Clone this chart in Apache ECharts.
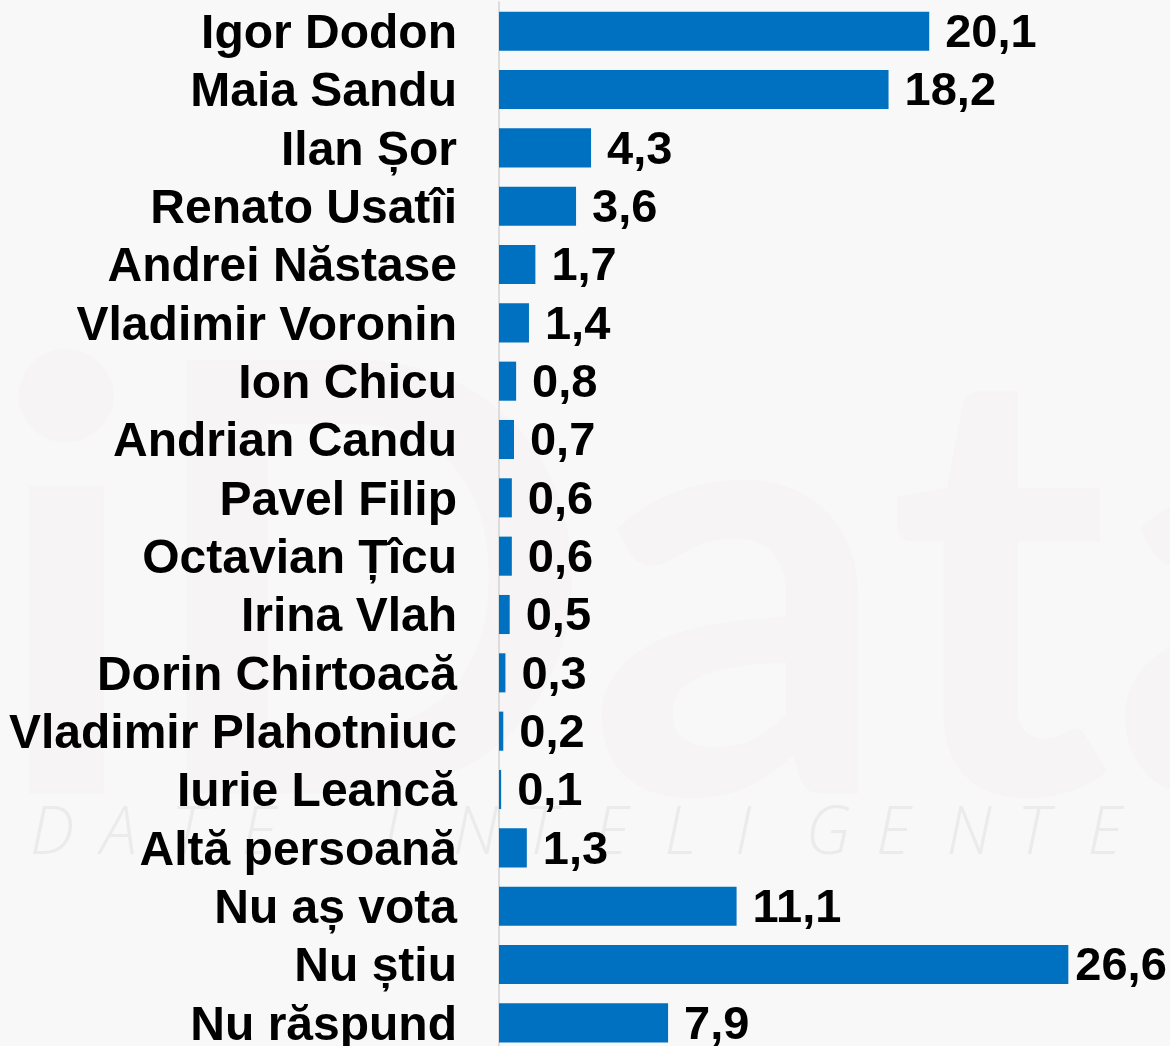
<!DOCTYPE html>
<html>
<head>
<meta charset="utf-8">
<script src="https://cdn.jsdelivr.net/npm/echarts@6/dist/echarts.min.js"></script>
<style>
html,body{margin:0;padding:0;background:#f8f8f8;overflow:hidden;}
#c{width:1170px;height:1060px;}
</style>
</head>
<body>
<div id="c"></div>
<script>
const categories = ["Igor Dodon","Maia Sandu","Ilan Șor","Renato Usatîi","Andrei Năstase","Vladimir Voronin","Ion Chicu","Andrian Candu","Pavel Filip","Octavian Țîcu","Irina Vlah","Dorin Chirtoacă","Vladimir Plahotniuc","Iurie Leancă","Altă persoană","Nu aș vota","Nu știu","Nu răspund"];
const values = [20.1,18.2,4.3,3.6,1.7,1.4,0.8,0.7,0.6,0.6,0.5,0.3,0.2,0.1,1.3,11.1,26.6,7.9];

const watermark = "DATE INTELIGENTE".split("");
const chart = echarts.init(document.getElementById('c'));
const maxV = Math.max(...values);
const graphics = [];
graphics.push({type:'text', left:-10, top:300, silent:true, z:-10,
  style:{text:'iData', fontSize:600, fontWeight:'bold', fontFamily:'Lato', fill:'rgba(190,150,150,0.035)'}});
watermark.forEach((ch,i)=>{
  if(ch===' ') return;
  graphics.push({type:'text', x:30 + i*70.5, y:802, silent:true, z:-10,
    style:{text:ch, fontSize:66, fontStyle:'italic', fontFamily:'Open Sans', fontWeight:300, fill:'#ebebeb'}});
});
chart.setOption({
  backgroundColor:'#f8f8f8',
  animation:false,
  graphic: graphics,
  grid:{left:499, right:0, top:2, height:1050, containLabel:false},
  xAxis:{type:'value', min:0, max:31.35, show:false},
  yAxis:{type:'category', data:categories, inverse:true,
    axisLine:{show:true, lineStyle:{color:'#d4d4d4', width:1.5}},
    axisTick:{show:false},
    axisLabel:{interval:0, margin:42, color:'#000', fontSize:48, fontWeight:'bold', fontFamily:'Liberation Sans',
      verticalAlign:'top', lineHeight:7}},
  series:[{type:'bar', barWidth:'67%',
    data: values.map(v=>({value:v, label:{distance: v===maxV ? 7 : 16}})),
    itemStyle:{color:'#0070C0'},
    label:{show:true, position:'right', color:'#000', fontSize:47, fontWeight:'bold', fontFamily:'Liberation Sans',
      offset:[0,3],
      formatter:p=>p.value.toFixed(1).replace('.',',')}
  }]
});
</script>
</body>
</html>
